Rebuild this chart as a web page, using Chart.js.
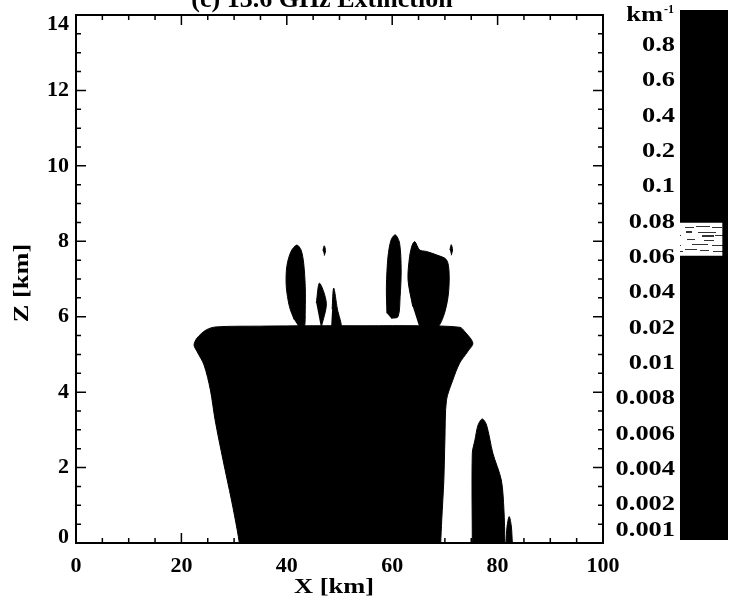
<!DOCTYPE html>
<html>
<head>
<meta charset="utf-8">
<title>13.6 GHz Extinction</title>
<script src="https://cdn.jsdelivr.net/npm/chart.js@4.4.0/dist/chart.umd.min.js"></script>
<style>
  html, body { margin: 0; padding: 0; background: #fff; }
  #wrap { position: relative; width: 733px; height: 602px; overflow: hidden; }
  #plot { position: absolute; left: 0; top: 0; }
  #cbar { position: absolute; left: 600px; top: 0; }
</style>
</head>
<body>
<div id="wrap">
  <canvas id="plot" width="733" height="602"></canvas>
  <canvas id="cbar" width="133" height="602"></canvas>
</div>
<script>
// axis ticks
var xTicks = [0, 20, 40, 60, 80, 100];
var zTicks = [0, 2, 4, 6, 8, 10, 12, 14];

// colour bar levels (km^-1), bottom to top
var levelLabels = ['0.001', '0.002', '0.004', '0.006', '0.008', '0.01', '0.02', '0.04',
                   '0.06', '0.08', '0.1', '0.2', '0.4', '0.6', '0.8', 'km'];
var bandHeights = [1, 1, 1, 1, 1, 1, 1, 1, 1, 1, 1, 1, 1, 1, 1];
var emptyBand = 8; // 0.06 - 0.08 band has no area in the field

// filled extinction contours, [x km, z km]
var anvil = [[31.0, 0], [30.6, 0.34], [29.5, 1.14], [27.9, 2.2], [26.4, 3.26], [25.5, 4.06],
             [24.3, 4.72], [23.0, 5.07], [22.4, 5.25], [23.0, 5.44], [24.7, 5.65], [26.6, 5.73],
             [35, 5.75], [45, 5.76], [55, 5.76], [65, 5.76], [72.8, 5.72], [73.8, 5.6],
             [75.3, 5.3], [74.3, 5.07], [72.8, 4.77], [71.5, 4.32], [70.3, 3.79], [70.0, 2.73],
             [69.8, 1.67], [69.4, 0.61], [69.2, 0]];
var towerA = [[42.4, 5.7], [43.3, 5.7], [43.5, 6.18], [43.5, 6.8], [43.2, 7.42], [42.7, 7.77],
              [41.9, 7.9], [40.8, 7.73], [40.0, 7.33], [39.9, 6.8], [40.5, 6.27], [41.4, 5.92]];
var speckA = [[47.1, 7.62], [47.35, 7.75], [47.1, 7.88], [46.85, 7.75]];
var spikeA = [[46.5, 5.7], [47.5, 6.36], [46.2, 6.89], [45.6, 6.36]];
var spikeB = [[48.4, 5.7], [50.3, 5.7], [49.6, 6.2], [48.9, 6.76], [48.6, 6.2]];
var towerB = [[59.8, 5.96], [61.1, 6.0], [61.5, 6.53], [61.7, 7.24], [61.4, 7.95], [60.6, 8.17],
              [59.8, 8.04], [59.2, 7.59], [58.9, 6.8], [59.0, 6.09]];
var towerC = [[65.2, 5.7], [68.4, 5.7], [69.7, 6.0], [70.6, 6.53], [70.8, 7.15], [70.3, 7.51],
              [68.4, 7.64], [66.5, 7.73], [65.2, 7.77], [64.3, 7.99], [63.8, 7.9], [63.3, 7.59],
              [63.0, 6.98], [63.9, 6.27]];
var speckB = [[71.2, 7.63], [71.45, 7.77], [71.2, 7.91], [70.95, 7.77]];
var cellLow = [[75.2, 0], [75.2, 2.38], [75.7, 2.73], [76.3, 3.13], [77.1, 3.29], [77.9, 3.13],
               [79.1, 2.38], [80.7, 1.67], [81.2, 0.88], [81.4, 0]];
var spikeC = [[81.6, 0], [81.8, 0.45], [82.2, 0.7], [82.6, 0.45], [82.8, 0]];

var shapes = [anvil, towerA, speckA, spikeA, spikeB, towerB, towerC, speckB, cellLow, spikeC];

var SERIF = '"Liberation Serif", "Times New Roman", serif';

function toPoints(shape) {
  return shape.map(function (p) { return { x: p[0], y: p[1] }; });
}

// text drawn a little wide like the original lettering
function wideText(ctx, text, x, y, rot) {
  ctx.save();
  ctx.translate(x, y);
  if (rot) ctx.rotate(rot);
  ctx.scale(1.2, 1);
  ctx.fillText(text, 0, 0);
  ctx.restore();
}

// IDL-style box with inward ticks, labels and titles
var frame = {
  id: 'frame',
  afterDatasetsDraw: function (chart) {
    var ctx = chart.ctx, a = chart.chartArea;
    var sx = chart.scales.x, sy = chart.scales.y;
    ctx.save();
    ctx.strokeStyle = '#000';
    ctx.lineWidth = 1.5;
    ctx.beginPath();
    for (var v = 0; v <= 100; v += 5) {
      var px = sx.getPixelForValue(v);
      var len = v % 20 === 0 ? 10 : 5;
      ctx.moveTo(px, a.bottom); ctx.lineTo(px, a.bottom - len);
      ctx.moveTo(px, a.top); ctx.lineTo(px, a.top + len);
    }
    for (var z = 0; z <= 14; z += 0.5) {
      var py = sy.getPixelForValue(z);
      var zl = z % 2 === 0 ? 10 : 5;
      ctx.moveTo(a.left, py); ctx.lineTo(a.left + zl, py);
      ctx.moveTo(a.right, py); ctx.lineTo(a.right - zl, py);
    }
    ctx.stroke();
    ctx.lineWidth = 2;
    ctx.strokeRect(a.left, a.top, a.right - a.left, a.bottom - a.top);

    ctx.fillStyle = '#000';
    ctx.font = 'bold 22px ' + SERIF;
    ctx.textAlign = 'right';
    ctx.textBaseline = 'middle';
    zTicks.forEach(function (t) {
      var y = Math.min(Math.max(sy.getPixelForValue(t), a.top + 9), a.bottom - 6);
      ctx.fillText(String(t), a.left - 7, y);
    });
    ctx.textAlign = 'center';
    xTicks.forEach(function (t) {
      ctx.fillText(String(t), sx.getPixelForValue(t), a.bottom + 23);
    });

    wideText(ctx, 'X [km]', 334, 587);
    wideText(ctx, 'Z [km]', 22, 283, -Math.PI / 2);

    ctx.font = 'bold 26px ' + SERIF;
    ctx.textBaseline = 'alphabetic';
    ctx.fillText('(c) 13.6 GHz Extinction', 322, 7);
    ctx.restore();
  }
};

new Chart(document.getElementById('plot'), {
  type: 'line',
  data: {
    datasets: shapes.map(function (s) {
      return {
        data: toPoints(s),
        fill: 'shape',
        backgroundColor: '#000',
        borderColor: '#000',
        borderWidth: 1,
        pointRadius: 0,
        tension: 0.3
      };
    })
  },
  options: {
    responsive: false,
    animation: false,
    events: [],
    layout: { padding: { left: 76, right: 130, top: 15, bottom: 59 } },
    scales: {
      x: { type: 'linear', min: 0, max: 100, display: false },
      y: { type: 'linear', min: 0, max: 14, display: false }
    },
    plugins: { legend: { display: false }, tooltip: { enabled: false } }
  },
  plugins: [frame]
});

// speckled fill for the empty band
function bandPattern() {
  var c = document.createElement('canvas');
  c.width = 42; c.height = 32;
  var g = c.getContext('2d');
  g.fillStyle = '#fff';
  g.fillRect(0, 0, 42, 32);
  g.fillStyle = '#333';
  var marks = [[1, 3, 9, 1], [12, 2, 14, 1], [28, 3, 10, 1], [2, 7, 6, 2], [14, 8, 18, 1],
               [18, 11, 12, 2], [31, 11, 8, 1], [3, 15, 8, 1], [20, 16, 10, 1], [8, 20, 16, 1],
               [28, 21, 11, 1], [1, 25, 12, 1], [16, 26, 9, 1], [29, 27, 12, 1]];
  marks.forEach(function (m) { g.fillRect(m[0], m[1], m[2], m[3]); });
  return g.createPattern(c, 'repeat');
}

var barLabels = {
  id: 'barLabels',
  afterDraw: function (chart) {
    var ctx = chart.ctx, a = chart.chartArea, sy = chart.scales.y;
    ctx.save();
    ctx.fillStyle = '#000';
    ctx.font = 'bold 22px ' + SERIF;
    ctx.textAlign = 'right';
    ctx.textBaseline = 'middle';
    levelLabels.forEach(function (lab, i) {
      var y = Math.min(Math.max(sy.getPixelForValue(i), a.top + 5), a.bottom - 10);
      if (lab === 'km') {
        ctx.font = 'bold 12px ' + SERIF;
        ctx.fillText('-1', 74, y - 5);
        var w = ctx.measureText('-1').width;
        ctx.font = 'bold 22px ' + SERIF;
        wideText(ctx, lab, 73 - w, y);
      } else {
        wideText(ctx, lab, 75, y);
      }
    });
    ctx.restore();
  }
};

var pattern = bandPattern();
new Chart(document.getElementById('cbar'), {
  type: 'bar',
  data: {
    labels: [''],
    datasets: bandHeights.map(function (h, i) {
      var empty = i === emptyBand;
      return {
        data: [h],
        backgroundColor: empty ? pattern : '#000',
        borderColor: '#000',
        borderWidth: empty ? { top: 1, bottom: 2, left: 0, right: 6 } : 0,
        borderSkipped: false,
        barPercentage: 1,
        categoryPercentage: 1
      };
    })
  },
  options: {
    responsive: false,
    animation: false,
    events: [],
    layout: { padding: { left: 80, right: 5, top: 10, bottom: 62 } },
    scales: {
      x: { stacked: true, display: false },
      y: { stacked: true, min: 0, max: 15, display: false }
    },
    plugins: { legend: { display: false }, tooltip: { enabled: false } }
  },
  plugins: [barLabels]
});
</script>
</body>
</html>
